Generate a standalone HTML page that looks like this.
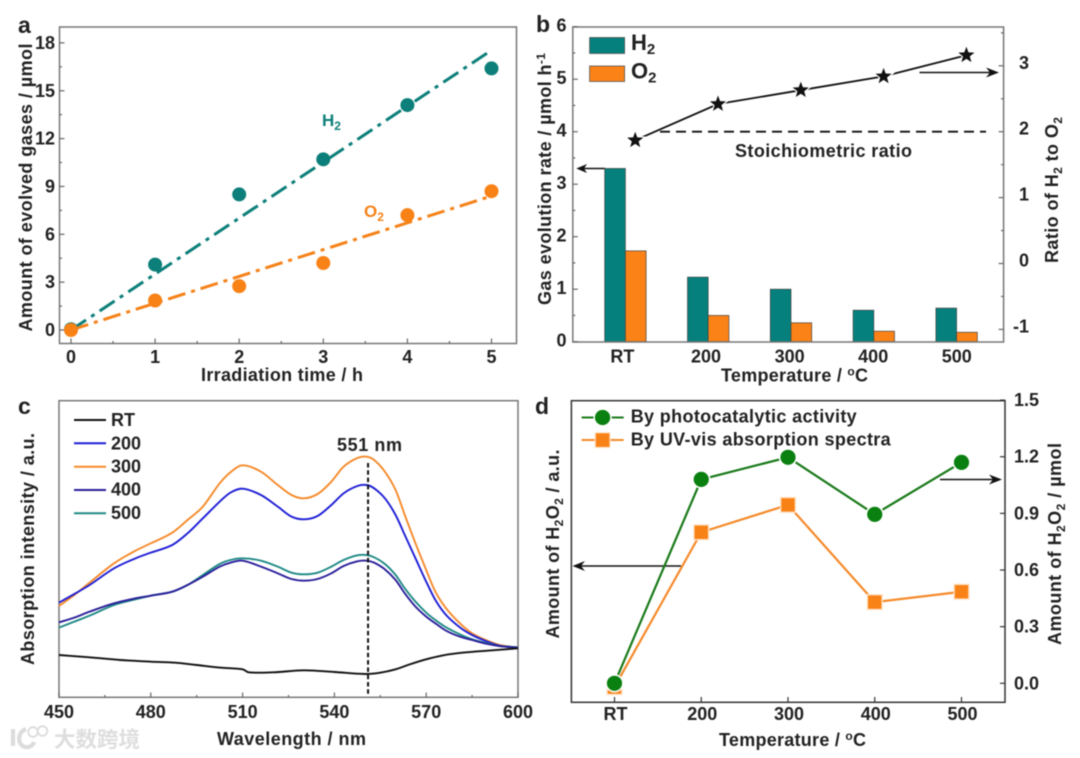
<!DOCTYPE html>
<html lang="en">
<head>
<meta charset="utf-8">
<title>Photocatalytic gas evolution charts</title>
<style>
html,body{margin:0;padding:0;background:#fff;width:1080px;height:758px;overflow:hidden}
svg{display:block;filter:blur(.5px)}
text{font-family:"Liberation Sans","Noto Sans CJK SC",sans-serif;font-weight:700;font-size:18px;fill:#222}
</style>
</head>
<body>
<svg xmlns="http://www.w3.org/2000/svg" width="1080" height="758" viewBox="0 0 1080 758">
<rect width="1080" height="758" fill="#fff"/>

<!-- PANEL A -->
<g id="pa">
<rect x="59.5" y="27" width="457" height="316.5" fill="none" stroke="#777" stroke-width="1.5"/>
<text x="18" y="33" style="font-size:23px">a</text>
<text x="201" y="381" textLength="162">Irradiation time / h</text>
<text transform="translate(32,331.5) rotate(-90)" textLength="288">Amount of evolved gases / µmol</text>
<text x="322" y="126" style="fill:#0d7f7a;font-size:17px">H<tspan dy="4" style="font-size:12px;fill:#0d7f7a">2</tspan></text>
<text x="364" y="217" style="fill:#f58219;font-size:17px">O<tspan dy="4" style="font-size:12px;fill:#f58219">2</tspan></text>
</g>

<!-- PANEL B -->
<g id="pb">
<text x="536" y="32" style="font-size:23px">b</text>
<text x="721" y="381.5" textLength="147">Temperature / <tspan dy="-6" style="font-size:12px">o</tspan><tspan dy="6">C</tspan></text>
<text transform="translate(551,305) rotate(-90)" textLength="252">Gas evolution rate / µmol h<tspan dy="-6" style="font-size:12px">-1</tspan></text>
<text transform="translate(1058,263) rotate(-90)" textLength="146">Ratio of H<tspan dy="4" style="font-size:12px">2</tspan><tspan dy="-4"> to O</tspan><tspan dy="4" style="font-size:12px">2</tspan></text>
<rect x="589.6" y="37.5" width="35" height="16" fill="#05807c" stroke="#555" stroke-width=".8"/>
<rect x="589.6" y="66" width="35" height="15.5" fill="#fb8217" stroke="#555" stroke-width=".8"/>
<text x="631" y="50" style="font-size:22px">H<tspan dy="4" style="font-size:15px">2</tspan></text>
<text x="631" y="78.5" style="font-size:22px">O<tspan dy="4" style="font-size:15px">2</tspan></text>
<text x="735" y="157" textLength="177">Stoichiometric ratio</text>
<path d="M605 168.5H580" stroke="#111" stroke-width="1.4"/>
<path d="M576.3 168.5L587 164L584 168.5L587 173Z" fill="#111"/>
<path d="M919.5 72.5H993" stroke="#111" stroke-width="1.4"/>
<path d="M999 72.5L986 67.5L990 72.5L986 77.5Z" fill="#111"/>
</g>

<!-- PANEL C -->
<g id="pc">
<rect x="59" y="400.7" width="459" height="296.6" fill="none" stroke="#777" stroke-width="1.5"/>
<text x="18" y="414" style="font-size:23px">c</text>
<text x="217" y="745" textLength="149">Wavelength / nm</text>
<text transform="translate(34,665) rotate(-90)" textLength="232">Absorption intensity / a.u.</text>
<text x="337" y="451" textLength="65">551 nm</text>
<path d="M74 420H106" stroke="#111" stroke-width="2"/>
<path d="M74 443.3H106" stroke="#1f1fd6" stroke-width="2"/>
<path d="M74 466.7H106" stroke="#f58a2a" stroke-width="2"/>
<path d="M74 490H106" stroke="#2a1f9a" stroke-width="2"/>
<path d="M74 513.3H106" stroke="#1f8a86" stroke-width="2"/>
<text x="111" y="426">RT</text>
<text x="111" y="449.5">200</text>
<text x="111" y="472.5">300</text>
<text x="111" y="495.5">400</text>
<text x="111" y="519">500</text>
<g>
<path d="M13 729V746M26 729C17 732 17 745 25 747C30 748 33 745 34 742" fill="none" stroke="#dcdcdc" stroke-width="4.2"/>
<circle cx="33" cy="732" r="4.8" fill="none" stroke="#dcdcdc" stroke-width="1.8"/>
<circle cx="42.5" cy="731" r="4.8" fill="none" stroke="#dcdcdc" stroke-width="1.8"/>
<text x="54" y="747" style="font-size:21.5px;fill:#dedede">大数跨境</text>
</g>
</g>

<!-- PANEL D -->
<g id="pd">
<rect x="571.4" y="400.7" width="433.6" height="301.6" fill="none" stroke="#333" stroke-width="1.5"/>
<text x="535" y="414" style="font-size:23px">d</text>
<text x="719" y="746" textLength="147">Temperature / <tspan dy="-6" style="font-size:12px">o</tspan><tspan dy="6">C</tspan></text>
<text transform="translate(559,638.5) rotate(-90)" textLength="189">Amount of H<tspan dy="4" style="font-size:12px">2</tspan><tspan dy="-4">O</tspan><tspan dy="4" style="font-size:12px">2</tspan><tspan dy="-4"> / a.u.</tspan></text>
<text transform="translate(1061,645) rotate(-90)" textLength="202">Amount of H<tspan dy="4" style="font-size:12px">2</tspan><tspan dy="-4">O</tspan><tspan dy="4" style="font-size:12px">2</tspan><tspan dy="-4"> / µmol</tspan></text>
<path d="M681 566H577" stroke="#111" stroke-width="1.4"/>
<path d="M572.5 566L585 561L581 566L585 571Z" fill="#111"/>
<path d="M940 479.5H997" stroke="#111" stroke-width="1.4"/>
<path d="M1002 479.5L989 474.5L993 479.5L989 484.5Z" fill="#111"/>
<path d="M581.6 417.5H623.7" stroke="#1a7a1a" stroke-width="2"/>
<circle cx="602.6" cy="417.5" r="8.4" fill="#0a8010" stroke="#fff" stroke-width="1.5"/>
<path d="M581.6 440H623.7" stroke="#f58a2a" stroke-width="2"/>
<rect x="595.2" y="432.7" width="14.8" height="14.8" fill="#f98216" stroke="#ffe3c8" stroke-width="1.2"/>
<text x="630.7" y="422.5" textLength="226">By photocatalytic activity</text>
<text x="630.7" y="445.5" textLength="260">By UV-vis absorption spectra</text>
</g>

<script>
// ---- Panel a data ----
const aTimes = [0, 1, 2, 3, 4, 5];
const aH2 = [0.05, 4.1, 8.5, 10.7, 14.1, 16.4];
const aO2 = [0, 1.85, 2.75, 4.2, 7.2, 8.7];
const aH2FitX = [0, 4.96];
const aH2FitY = [0, 17.4];
const aO2FitX = [0, 5];
const aO2FitY = [0, 8.4];
const aXTicks = [0, 1, 2, 3, 4, 5];
const aXMinor = [0.5, 1.5, 2.5, 3.5, 4.5];
const aYTicks = [0, 3, 6, 9, 12, 15, 18];
const aYMinor = [1.5, 4.5, 7.5, 10.5, 13.5, 16.5];

// ---- Panel b data ----
const bCategories = ['RT', '200', '300', '400', '500'];
const bH2Rate = [3.3, 1.23, 1.0, 0.6, 0.64];
const bO2Rate = [1.73, 0.5, 0.36, 0.2, 0.18];
const bRatio = [1.87, 2.42, 2.63, 2.84, 3.16];
const bStoichiometric = 2;
const bLeftTicks = [0, 1, 2, 3, 4, 5, 6];
const bLeftMinor = [0.5, 1.5, 2.5, 3.5, 4.5, 5.5];
const bRightTicks = [-1, 0, 1, 2, 3];
const bRightMinor = [-0.5, 0.5, 1.5, 2.5, 3.5];

// ---- Panel c data (intensity in arbitrary units) ----
const cWavelengths = [450,455,460,468,475,480,487,492,497,502.5,506,510,516,521.5,526,530,534.5,539,543,547.5,550.5,553,556.5,560,563,566.5,570,573,576.5,581,585,590,594,600];
const c300 = [274,307,344,402,440,462,494,532,572,642,675,696,677,637,607,597,610,647,692,718,722,712,677,622,547,462,382,317,267,222,192,170,157,149];
const c200 = [284,310,337,387,417,434,457,492,537,587,614,626,607,572,542,534,544,577,612,634,637,627,597,547,487,417,347,292,247,210,187,167,155,149];
const c400 = [225,239,257,282,297,305,317,337,362,392,404,410,392,372,355,350,355,372,394,408,410,404,384,352,312,272,242,222,200,182,172,160,154,149];
const c500 = [209,227,245,277,294,305,317,337,367,400,412,417,410,392,374,369,374,392,412,426,427,420,400,367,327,287,254,232,210,189,174,162,154,150];
const cRTWavelengths = [450,460,470,480,488,495,503,510,512,520,530,540,550,555,560,565,570,575,580,590,600];
const cRT = [127,120,112,107,104,97,89,84,75,75,81,76,70,74,84,100,114,125,132,140,147];
const cPeak = 551;
const cXTicks = [450, 480, 510, 540, 570, 600];
const cXMinor = [465, 495, 525, 555, 585];

// ---- Panel d data ----
const dCategories = ['RT', '200', '300', '400', '500'];
const dPhotocatalytic = [0, 1.08, 1.197, 0.895, 1.17];
const dUvVis = [-0.02, 0.8, 0.945, 0.43, 0.485];
const dYTicks = [0, 0.3, 0.6, 0.9, 1.2, 1.5];

// ---- Axis functions ----
const axA = { x: v => 71 + v * 84.1, y: v => 330 - v * 15.95 };
const axB = {
  x: i => 625.4 + i * 82.8,
  yL: v => 341.7 - v * 52.5,
  yR: v => 263.5 - v * 65.9
};
const axC = { x: v => 59 + (v - 450) * 3.06, y: v => 697.33 - v / 3 };
const axD = { x: i => 614.5 + i * 86.75, y: v => 683.3 - v * 188.8 };

const NS = 'http://www.w3.org/2000/svg';
function mk(tag, attrs, parent) {
  const el = document.createElementNS(NS, tag);
  for (const k in attrs) el.setAttribute(k, attrs[k]);
  parent.appendChild(el);
  return el;
}
function tickLabel(parent, x, y, str, anchor) {
  const el = mk('text', { x: x, y: y, 'text-anchor': anchor }, parent);
  el.textContent = str;
  
  
}
function tick(parent, x1, y1, x2, y2, color) {
  const el = mk('line', { x1: x1, y1: y1, x2: x2, y2: y2, stroke: color, 'stroke-width': 1.2 }, parent);
  
  
}
function smoothPath(xs, ys) {
  const n = xs.length;
  const m = xs.map((x, i) => {
    const a = Math.max(i - 1, 0), b = Math.min(i + 1, n - 1);
    return (ys[b] - ys[a]) / (xs[b] - xs[a]);
  });
  let d = 'M' + xs[0].toFixed(2) + ' ' + ys[0].toFixed(2);
  for (let i = 0; i < n - 1; i++) {
    const h = xs[i + 1] - xs[i];
    d += 'C' + (xs[i] + h / 3).toFixed(2) + ' ' + (ys[i] + m[i] * h / 3).toFixed(2) + ' ' +
      (xs[i + 1] - h / 3).toFixed(2) + ' ' + (ys[i + 1] - m[i + 1] * h / 3).toFixed(2) + ' ' +
      xs[i + 1].toFixed(2) + ' ' + ys[i + 1].toFixed(2);
  }
  return d;
}
function starPoints(cx, cy, R) {
  const pts = [];
  for (let i = 0; i < 10; i++) {
    const r = i % 2 ? R * 0.42 : R;
    const a = -Math.PI / 2 + i * Math.PI / 5;
    pts.push((cx + r * Math.cos(a)).toFixed(2) + ',' + (cy + r * Math.sin(a)).toFixed(2));
  }
  return pts.join(' ');
}

// ---- Draw panel a ----
const pa = document.getElementById('pa');
aXTicks.forEach(v => {
  tick(pa, axA.x(v), 343.5, axA.x(v), 338.5, '#666');
  tickLabel(pa, axA.x(v), 363, String(v), 'middle');
});
aXMinor.forEach(v => tick(pa, axA.x(v), 343.5, axA.x(v), 341, '#666'));
aYTicks.forEach(v => {
  tick(pa, 59.5, axA.y(v), 64.5, axA.y(v), '#666');
  tickLabel(pa, 55, axA.y(v) + 6, String(v), 'end');
});
aYMinor.forEach(v => tick(pa, 59.5, axA.y(v), 62, axA.y(v), '#666'));

const fitH2 = mk('line', { x1: axA.x(aH2FitX[0]), y1: axA.y(aH2FitY[0]), x2: axA.x(aH2FitX[1]), y2: axA.y(aH2FitY[1]), stroke: '#0d7f7a', 'stroke-width': 3, 'stroke-dasharray': '18 6.2 4 6.2' }, pa);


const fitO2 = mk('line', { x1: axA.x(aO2FitX[0]), y1: axA.y(aO2FitY[0]), x2: axA.x(aO2FitX[1]), y2: axA.y(aO2FitY[1]), stroke: '#f58219', 'stroke-width': 3, 'stroke-dasharray': '18 6 4 6' }, pa);


aTimes.forEach((t, i) => {
  const c = mk('circle', { cx: axA.x(t), cy: axA.y(aH2[i]), r: 7, fill: '#0d7f7a' }, pa);
  
  
});
aTimes.forEach((t, i) => {
  const c = mk('circle', { cx: axA.x(t), cy: axA.y(aO2[i]), r: 7, fill: '#f98216' }, pa);
  
  
});

// ---- Draw panel b ----
const pb = document.getElementById('pb');
bCategories.forEach((cat, i) => {
  const cx = axB.x(i);
  const h = mk('rect', { x: cx - 20.7, y: axB.yL(bH2Rate[i]), width: 20.7, height: 341.7 - axB.yL(bH2Rate[i]), fill: '#05807c', stroke: '#444', 'stroke-width': .7 }, pb);
  
  
  const o = mk('rect', { x: cx, y: axB.yL(bO2Rate[i]), width: 20.7, height: 341.7 - axB.yL(bO2Rate[i]), fill: '#fb8217', stroke: '#444', 'stroke-width': .7 }, pb);
  
  
  tickLabel(pb, cx - 3 + i * 0.8, 362.5, cat, 'middle');
});
const frameB = mk('rect', { x: 572.8, y: 27, width: 430.8, height: 315, fill: 'none', stroke: '#777', 'stroke-width': 1.5 }, pb);


bLeftTicks.forEach(v => {
  tick(pb, 572.8, axB.yL(v), 577.8, axB.yL(v), '#666');
  tickLabel(pb, 566.5, axB.yL(v) + 5, String(v), 'end');
});
bLeftMinor.forEach(v => tick(pb, 572.8, axB.yL(v), 575.3, axB.yL(v), '#666'));
bRightTicks.forEach(v => {
  tick(pb, 1003.6, axB.yR(v), 998.6, axB.yR(v), '#666');
  tickLabel(pb, 1029, axB.yR(v) + 3, String(v), 'end');
});
bRightMinor.forEach(v => tick(pb, 1003.6, axB.yR(v), 1001, axB.yR(v), '#666'));
const stoich = mk('line', { x1: 660, y1: axB.yR(bStoichiometric), x2: 986, y2: axB.yR(bStoichiometric), stroke: '#111', 'stroke-width': 1.8, 'stroke-dasharray': '10 6' }, pb);


const ratioLine = mk('polyline', { points: bRatio.map((v, i) => (axB.x(i) + 9.8) + ',' + axB.yR(v)).join(' '), fill: 'none', stroke: '#111', 'stroke-width': 1.8 }, pb);


bRatio.forEach((v, i) => {
  const s = mk('polygon', { points: starPoints(axB.x(i) + 9.8, axB.yR(v), 8.5), fill: '#111', stroke: '#fff', 'stroke-width': 2.4, 'paint-order': 'stroke' }, pb);
  
  
});

// ---- Draw panel c ----
const pc = document.getElementById('pc');
cXTicks.forEach(v => {
  tick(pc, axC.x(v), 697.3, axC.x(v), 692.5, '#666');
  tickLabel(pc, axC.x(v), 718, String(v), 'middle');
});
cXMinor.forEach(v => tick(pc, axC.x(v), 697.3, axC.x(v), 695, '#666'));
function curve(xs, vs, color, name, width) {
  const el = mk('path', { d: smoothPath(xs.map(axC.x), vs.map(axC.y)), fill: 'none', stroke: color, 'stroke-width': width }, pc);
  
  
}
curve(cWavelengths, c300, '#f58a2a', 'curve-300', 1.9);
curve(cWavelengths, c200, '#1f1fd6', 'curve-200', 1.9);
curve(cWavelengths, c500, '#1f8a86', 'curve-500', 1.9);
curve(cWavelengths, c400, '#2a1f9a', 'curve-400', 1.9);
curve(cRTWavelengths, cRT, '#111', 'curve-rt', 1.9);
const peak = mk('line', { x1: axC.x(cPeak), y1: 463, x2: axC.x(cPeak), y2: 695, stroke: '#111', 'stroke-width': 2, 'stroke-dasharray': '4.5 2.8' }, pc);



// ---- Draw panel d ----
const pd = document.getElementById('pd');
dCategories.forEach((cat, i) => {
  tick(pd, axD.x(i), 702.3, axD.x(i), 697, '#333');
  tickLabel(pd, axD.x(i) + 1, 720, cat, 'middle');
});
dYTicks.forEach(v => {
  tick(pd, 1005, axD.y(v), 1000, axD.y(v), '#333');
  tickLabel(pd, 1014, axD.y(v) + 6, v.toFixed(1), 'start');
});
const uvLine = mk('polyline', { points: dUvVis.map((v, i) => axD.x(i) + ',' + axD.y(v)).join(' '), fill: 'none', stroke: '#f58a2a', 'stroke-width': 2.2 }, pd);


const photoLine = mk('polyline', { points: dPhotocatalytic.map((v, i) => axD.x(i) + ',' + axD.y(v)).join(' '), fill: 'none', stroke: '#1a7a1a', 'stroke-width': 2.2 }, pd);


dUvVis.forEach((v, i) => {
  const r = mk('rect', { x: axD.x(i) - 7.4, y: axD.y(v) - 7.4, width: 14.8, height: 14.8, fill: '#f98216', stroke: '#ffe3c8', 'stroke-width': 1.4 }, pd);
  
  
});
dPhotocatalytic.forEach((v, i) => {
  const c = mk('circle', { cx: axD.x(i), cy: axD.y(v), r: 8.4, fill: '#0a8010', stroke: '#fff', 'stroke-width': 1.6 }, pd);
  
  
});
</script>
</svg>
</body>
</html>
